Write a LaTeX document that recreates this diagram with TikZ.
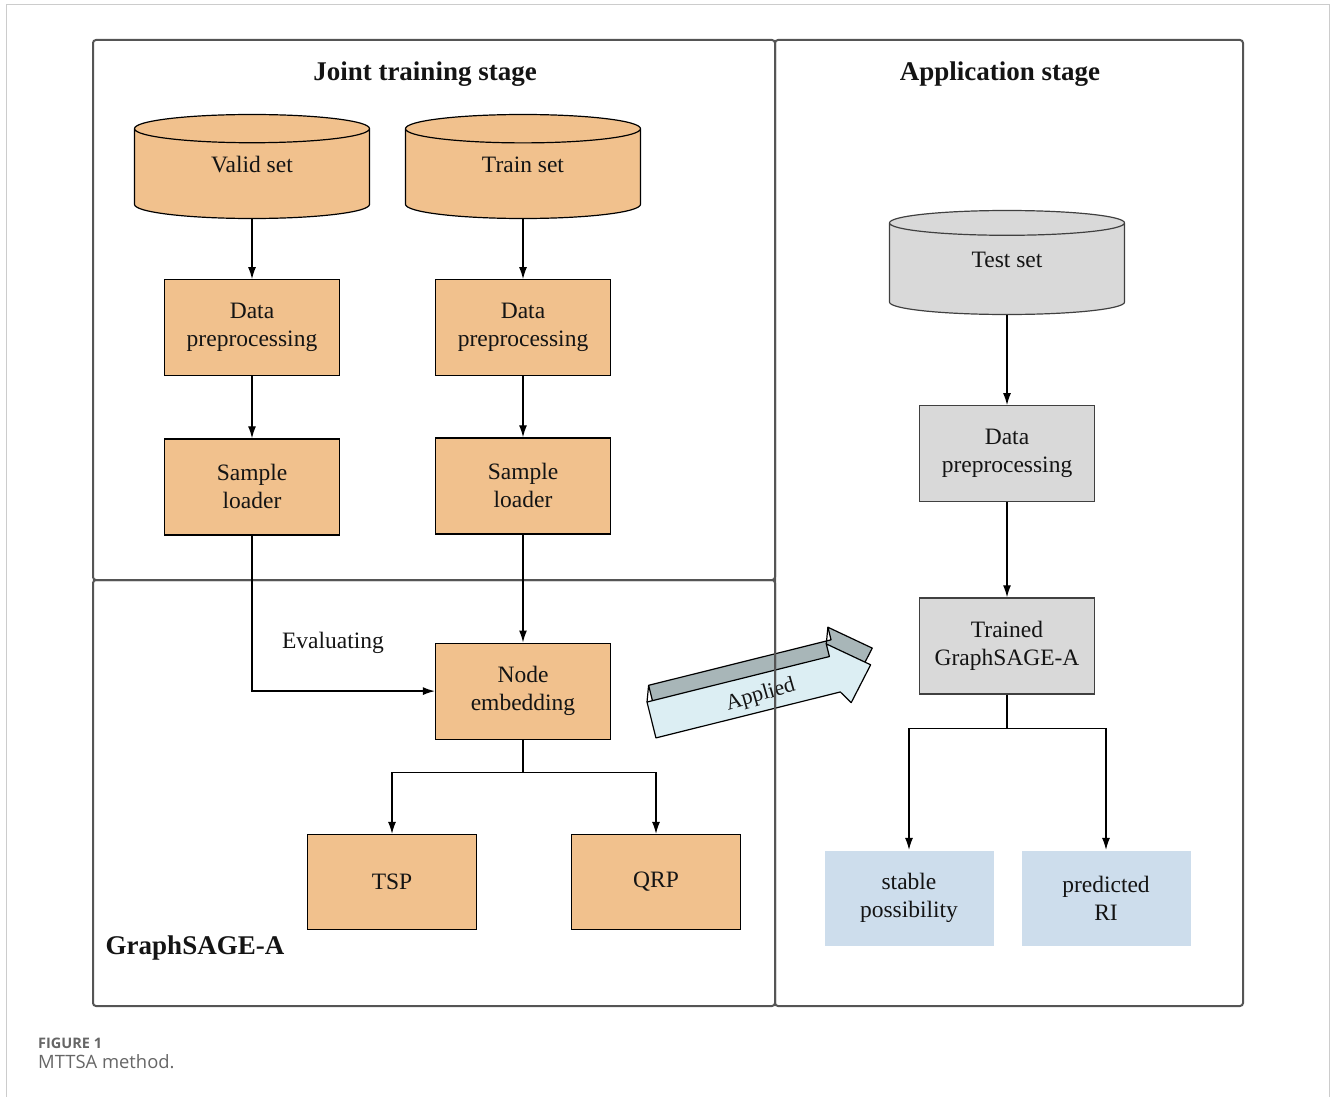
\documentclass[tikz,border=0pt]{standalone}
\usepackage{fontspec}
\setmainfont{Liberation Serif}
\newfontfamily\capfont{Open Sans}
\usetikzlibrary{shapes.geometric,arrows.meta,positioning}
\definecolor{fg}{RGB}{20,20,20}
\definecolor{orangebox}{RGB}{241,193,141}
\definecolor{greybox}{RGB}{217,217,217}
\definecolor{bluebox}{RGB}{205,221,236}
\definecolor{framecol}{RGB}{85,85,85}
\definecolor{appfront}{RGB}{220,238,243}
\definecolor{appback}{RGB}{168,182,184}
\tikzstyle{box}=[draw, line width=1.2pt, minimum width=175pt, minimum height=96pt,
align=center, text=fg, font=\fontsize{23.5}{28}\selectfont]
\tikzstyle{trainbox}=[box, fill=orangebox]
\tikzstyle{applybox}=[box, fill=greybox, draw=black!75]
\tikzstyle{resultbox}=[box, draw=none, fill=bluebox, minimum width=169pt, minimum height=95pt]
\tikzstyle{dataset}=[cylinder, shape border rotate=90, aspect=0.32, draw, line width=1.2pt,
minimum width=235pt, minimum height=104pt, text depth=22pt, anchor=shape center,
text=fg, font=\fontsize{23.5}{28}\selectfont]
\tikzstyle{myarrow}=[-{Latex[length=12pt,width=8pt]}, line width=1.3pt]
\tikzstyle{panel}=[draw=framecol, line width=2pt, rounded corners=3pt]
\tikzstyle{stage}=[text=fg, font=\fontsize{27}{30}\selectfont\bfseries]

\begin{document}
\begin{tikzpicture}[x=1pt, y=-1pt]

    \useasboundingbox (0,0) rectangle (1330,1097);
    \draw[black!20, line width=1pt] (6,1097) -- (6,5) -- (1329,5) -- (1329,1097);

    % applied arrow
    \begin{scope}[shift={(647,702)}, rotate=14]
        \draw[fill=appback, line width=1.2pt, line join=round, shift={(5.6,-15.8)}]
            (0,0) -- (188,0) -- (188,-13) -- (226,18) -- (198,50) -- (190,37) -- (0,37) -- cycle;
        \draw[line width=1.2pt] (0,0) -- (5.6,-15.8);
        \draw[line width=1.2pt] (188,-13) -- (193.6,-28.8);
        \draw[fill=appfront, line width=1.2pt, line join=round]
            (0,0) -- (188,0) -- (188,-13) -- (226,18) -- (198,50) -- (190,37) -- (0,37) -- cycle;
        \node[rotate=16, text=fg, font=\fontsize{22}{26}\selectfont] (applied) at (112,21) {Applied};
    \end{scope}

    % panels
    \draw[panel] (93,40) rectangle (775,580);
    \draw[panel] (93,580) rectangle (775,1006);
    \draw[panel] (775,40) rectangle (1243,1006);

    \node[stage] (jointtitle) at (425,74) {Joint training stage};
    \node[stage] (apptitle) at (1000,74) {Application stage};
    \node[stage] (gsa) at (195,948) {GraphSAGE-A};

    % joint training stage
    \node[dataset, fill=orangebox] (validset) at (252,166.5) {Valid set};
    \node[trainbox, below=60pt of validset] (prepvalid) {Data\\preprocessing};
    \draw[myarrow] (validset) -- (prepvalid);
    \node[trainbox, below=62pt of prepvalid] (loadvalid) {Sample\\loader};
    \draw[myarrow] (prepvalid) -- (loadvalid);

    \node[dataset, fill=orangebox] (trainset) at (523,166.5) {Train set};
    \node[trainbox, below=60pt of trainset] (preptrain) {Data\\preprocessing};
    \draw[myarrow] (trainset) -- (preptrain);
    \node[trainbox, below=61pt of preptrain] (loadtrain) {Sample\\loader};
    \draw[myarrow] (preptrain) -- (loadtrain);

    \node[trainbox, below=108pt of loadtrain] (embed) {Node\\embedding};
    \draw[myarrow] (loadtrain) -- (embed);
    \draw[myarrow] (loadvalid) |- (embed);
    \node[text=fg, font=\fontsize{23.5}{28}\selectfont] (evaluating) at (333,643) {Evaluating};

    \node[trainbox, minimum width=169pt, minimum height=95pt] (tsp) at (392,882) {TSP};
    \node[trainbox, minimum width=169pt, minimum height=95pt] (qrp) at (656,882) {QRP};
    \draw[myarrow] (embed.south) -- ++(0,33) -| (tsp);
    \draw[myarrow] (embed.south) -- ++(0,33) -| (qrp);

    % application stage
    \node[dataset, fill=greybox, draw=black!75] (testset) at (1007,262.5) {Test set};
    \node[applybox, below=90pt of testset] (preptest) {Data\\preprocessing};
    \draw[myarrow] (testset) -- (preptest);
    \node[applybox, below=95pt of preptest] (trained) {Trained\\GraphSAGE-A};
    \draw[myarrow] (preptest) -- (trained);

    \node[resultbox] (stable) at (909,898) {stable\\possibility};
    \node[resultbox] (predri) at (1106,898) {predicted\\RI};
    \draw[myarrow] (trained.south) -- ++(0,34) -| (stable);
    \draw[myarrow] (trained.south) -- ++(0,34) -| (predri);

    % caption
    \node[anchor=west, inner sep=0pt, text=black!60, font=\capfont\bfseries\fontsize{14.5}{16}\selectfont] (fignum) at (38,1043) {FIGURE 1};
    \node[anchor=west, inner sep=0pt, text=black!60, font=\capfont\fontsize{18.4}{21}\selectfont] (figcap) at (38,1062) {MTTSA method.};

\end{tikzpicture}
\end{document}
